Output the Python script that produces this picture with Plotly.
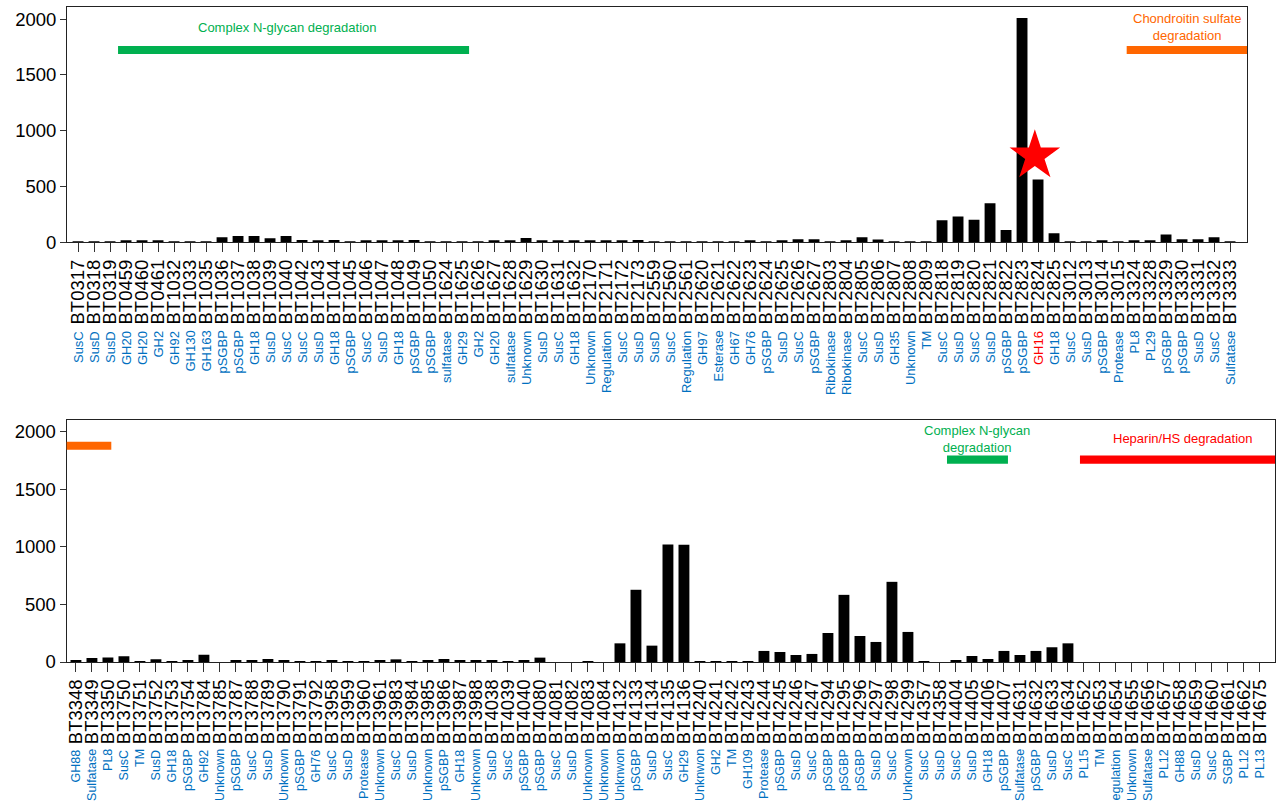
import plotly.graph_objects as go

# ---------------- data ----------------
top_genes = ["BT0317", "BT0318", "BT0319", "BT0459", "BT0460", "BT0461", "BT1032", "BT1033",
             "BT1035", "BT1036", "BT1037", "BT1038", "BT1039", "BT1040", "BT1042", "BT1043",
             "BT1044", "BT1045", "BT1046", "BT1047", "BT1048", "BT1049", "BT1050", "BT1624",
             "BT1625", "BT1626", "BT1627", "BT1628", "BT1629", "BT1630", "BT1631", "BT1632",
             "BT2170", "BT2171", "BT2172", "BT2173", "BT2559", "BT2560", "BT2561", "BT2620",
             "BT2621", "BT2622", "BT2623", "BT2624", "BT2625", "BT2626", "BT2627", "BT2803",
             "BT2804", "BT2805", "BT2806", "BT2807", "BT2808", "BT2809", "BT2818", "BT2819",
             "BT2820", "BT2821", "BT2822", "BT2823", "BT2824", "BT2825", "BT3012", "BT3013",
             "BT3014", "BT3015", "BT3324", "BT3328", "BT3329", "BT3330", "BT3331", "BT3332",
             "BT3333"]
top_functions = ["SusC", "SusD", "SusD", "GH20", "GH20", "GH2", "GH92", "GH130",
                 "GH163", "pSGBP", "pSGBP", "GH18", "SusD", "SusC", "SusC", "SusD",
                 "GH18", "pSGBP", "SusC", "SusD", "GH18", "pSGBP", "pSGBP", "sulfatase",
                 "GH29", "GH2", "GH20", "sulfatase", "Unknown", "SusD", "SusC", "GH18",
                 "Unknown", "Regulation", "SusC", "SusD", "SusD", "SusC", "Regulation", "GH97",
                 "Esterase", "GH67", "GH76", "pSGBP", "SusD", "SusC", "pSGBP", "Ribokinase",
                 "Ribokinase", "SusC", "SusD", "GH35", "Unknown", "TM", "SusC", "SusD",
                 "SusC", "SusD", "pSGBP", "pSGBP", "GH16", "GH18", "SusC", "SusD",
                 "pSGBP", "Protease", "PL8", "PL29", "pSGBP", "pSGBP", "SusD", "SusC",
                 "Sulfatase"]
top_values = [2, 2, 9, 15, 12, 18, 2, 2,
              8, 45, 57, 57, 36, 57, 21, 12,
              21, 8, 12, 12, 10, 20, 2, 1,
              1, 1, 10, 10, 38, 12, 12, 12,
              12, 12, 12, 20, 2, 8, 2, 2,
              2, 2, 12, 2, 10, 27, 27, 2,
              18, 45, 24, 5, 8, 2, 197, 232,
              203, 349, 110, 2010, 563, 80, 2, 5,
              12, 2, 18, 12, 69, 27, 27, 45,
              2]

bottom_genes = ["BT3348", "BT3349", "BT3350", "BT3750", "BT3751", "BT3752", "BT3753", "BT3754",
                "BT3784", "BT3785", "BT3787", "BT3788", "BT3789", "BT3790", "BT3791", "BT3792",
                "BT3958", "BT3959", "BT3960", "BT3961", "BT3983", "BT3984", "BT3985", "BT3986",
                "BT3987", "BT3988", "BT4038", "BT4039", "BT4040", "BT4080", "BT4081", "BT4082",
                "BT4083", "BT4084", "BT4132", "BT4133", "BT4134", "BT4135", "BT4136", "BT4240",
                "BT4241", "BT4242", "BT4243", "BT4244", "BT4245", "BT4246", "BT4247", "BT4294",
                "BT4295", "BT4296", "BT4297", "BT4298", "BT4299", "BT4357", "BT4358", "BT4404",
                "BT4405", "BT4406", "BT4407", "BT4631", "BT4632", "BT4633", "BT4634", "BT4652",
                "BT4653", "BT4654", "BT4655", "BT4656", "BT4657", "BT4658", "BT4659", "BT4660",
                "BT4661", "BT4662", "BT4675"]
bottom_functions = ["GH88", "Sulfatase", "PL8", "SusC", "TM", "SusD", "GH18", "pSGBP",
                    "GH92", "Unknown", "pSGBP", "SusC", "SusD", "Unknown", "pSGBP", "GH76",
                    "SusC", "SusD", "Protease", "Unknown", "SusC", "SusD", "Unknown", "pSGBP",
                    "GH18", "Unknown", "SusD", "SusC", "pSGBP", "pSGBP", "SusC", "SusD",
                    "Unknown", "Unknown", "Unknwon", "pSGBP", "SusD", "SusC", "GH29", "Unknwon",
                    "GH2", "TM", "GH109", "Protease", "pSGBP", "SusD", "SusC", "pSGBP",
                    "pSGBP", "pSGBP", "SusD", "SusC", "Unknown", "SusC", "SusD", "SusC",
                    "SusD", "GH18", "pSGBP", "Sulfatase", "pSGBP", "SusD", "SusC", "PL15",
                    "TM", "egulation", "Unknown", "Sulfatase", "PL12", "GH88", "SusD", "SusC",
                    "SGBP", "PL12", "PL13"]
bottom_values = [17, 35, 40, 49, 5, 23, 3, 14,
                 64, 0, 12, 17, 26, 14, 6, 6,
                 17, 6, 3, 17, 23, 6, 14, 26,
                 14, 14, 14, 6, 12, 38, 0, 0,
                 6, 0, 162, 627, 142, 1020, 1018, 6,
                 6, 4, 4, 96, 87, 61, 70, 252,
                 583, 226, 174, 696, 261, 6, 0, 14,
                 52, 26, 96, 61, 96, 128, 162, 0,
                 0, 0, 0, 0, 0, 0, 0, 0,
                 0, 0, 0]

# highlighted gene (star) position: category position, value
star_x = [59.8]
star_y = [775]

# pathway bands: (panel, start, end, level, colour, label, label position, label level)
pathways = [
    ("top", 2.5, 24.44, 1723, "#00B050", "Complex N-glycan degradation", 13.06, 1922),
    ("top", 65.54, 73.1, 1723, "#FF6600", "Chondroitin sulfate<br>degradation", 69.3, 1930),
    ("bottom", -0.6, 2.21, 1878, "#FF6600", None, None, None),
    ("bottom", 54.44, 58.25, 1757, "#00B050", "Complex N-glycan<br>degradation", 56.3, 1940),
    ("bottom", 62.75, 75.0, 1757, "#FF0000", "Heparin/HS degradation", 69.16, 1939),
]

# ---------------- layout geometry ----------------
W, H = 1279, 803
FONT = "Arial, Liberation Sans, sans-serif"
BLUE = "#0070C0"


def fx(p):
    return p / W


def fy(p):
    return 1 - p / H


panels = {
    "top": dict(genes=top_genes, funcs=top_functions, vals=top_values,
                xax="x", yax="y", xdom=[fx(67), fx(1247)], ydom=[fy(242.3), fy(7.3)],
                xrange=[-0.69, 73.06], yrange=[0, 2105], band=71,
                flabel_top=329, flabel_size=13),
    "bottom": dict(genes=bottom_genes, funcs=bottom_functions, vals=bottom_values,
                   xax="x2", yax="y2", xdom=[fx(66.5), fx(1275)], ydom=[fy(662), fy(420)],
                   xrange=[-0.59, 74.94], yrange=[0, 2101], band=70,
                   flabel_top=747, flabel_size=12.5),
}

fig = go.Figure()
annotations = []
shapes = []

for name, p in panels.items():
    xs = list(range(len(p["genes"])))
    fig.add_trace(go.Bar(x=xs, y=p["vals"], xaxis=p["xax"], yaxis=p["yax"],
                         marker=dict(color="black", line=dict(width=0)), width=0.68,
                         showlegend=False, hoverinfo="x+y"))
    axis_suffix = "" if name == "top" else "2"
    fig.update_layout(**{
        "xaxis" + axis_suffix: dict(
            domain=p["xdom"], range=p["xrange"], anchor=p["yax"], automargin=False,
            tickmode="array", tickvals=xs, ticktext=p["genes"], tickangle=-90,
            tickfont=dict(family=FONT, size=18.5, color="black"),
            ticks="outside", ticklen=9, tickwidth=1, tickcolor="#333333",
            showline=True, linecolor="#222222", linewidth=1, mirror=True,
            showgrid=False, zeroline=False, fixedrange=True),
        "yaxis" + axis_suffix: dict(
            domain=p["ydom"], range=p["yrange"], anchor=p["xax"], automargin=False,
            tickmode="array", tickvals=[0, 500, 1000, 1500, 2000],
            tickfont=dict(family=FONT, size=18.5, color="black"),
            ticks="outside", ticklen=6, tickwidth=1, tickcolor="#333333",
            showline=True, linecolor="#222222", linewidth=1, mirror=True,
            showgrid=False, zeroline=False, fixedrange=True),
    })
    # function labels below the gene names
    for i, f in enumerate(p["funcs"]):
        annotations.append(dict(
            x=i, xref=p["xax"], y=fy(p["flabel_top"]), yref="paper",
            text=f, textangle=-90, showarrow=False, xanchor="center", yanchor="top",
            font=dict(family=FONT, size=p["flabel_size"],
                      color="#FF0000" if f == "GH16" else BLUE)))

# pathway bands and their captions
for panel, x0, x1, lvl, col, label, lx, ly in pathways:
    p = panels[panel]
    shapes.append(dict(type="rect", xref=p["xax"], yref=p["yax"],
                       x0=x0, x1=x1, y0=lvl - p["band"] / 2, y1=lvl + p["band"] / 2,
                       fillcolor=col, line=dict(width=0), layer="above"))
    if label:
        annotations.append(dict(x=lx, xref=p["xax"], y=ly, yref=p["yax"], text=label,
                                showarrow=False, xanchor="center", yanchor="middle",
                                font=dict(family=FONT, size=13, color=col)))

fig.add_trace(go.Scatter(x=star_x, y=star_y, xaxis="x", yaxis="y", mode="markers",
                         marker=dict(symbol="star", size=38, color="#FF0000",
                                     line=dict(width=0)),
                         showlegend=False, hoverinfo="skip"))

fig.update_layout(width=W, height=H, margin=dict(l=0, r=0, t=0, b=0, autoexpand=False),
                  paper_bgcolor="white", plot_bgcolor="white", bargap=0.3,
                  shapes=shapes, annotations=annotations, showlegend=False,
                  font=dict(family=FONT))

fig.write_html("out.html", config={"displayModeBar": False})
